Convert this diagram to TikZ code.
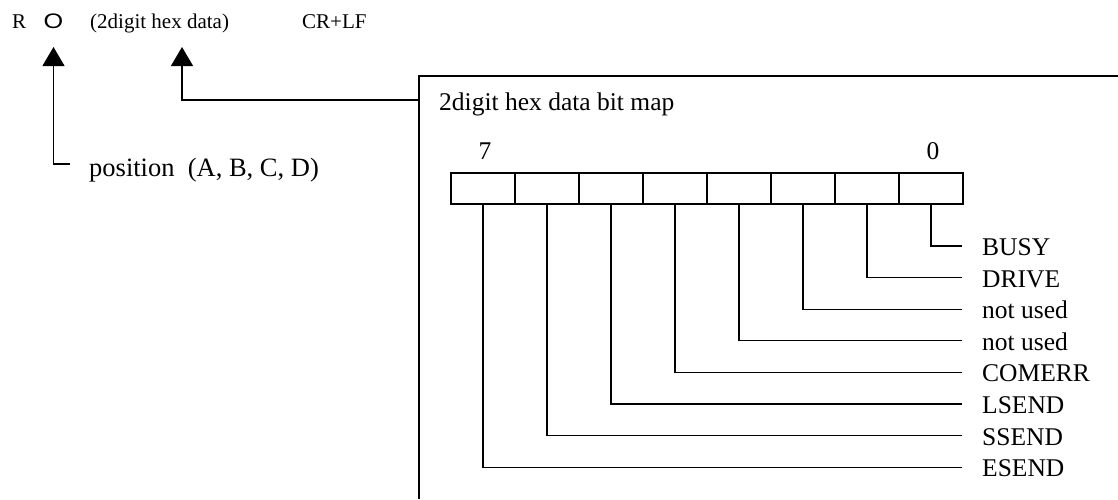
\documentclass[tikz,border=0pt]{standalone}
\usepackage{fontspec}
\setmainfont{Liberation Serif}
\newfontfamily\glyphfont{Liberation Sans}
\usetikzlibrary{arrows.meta}

\tikzset{
  wire/.style={line width=1.2pt, line join=miter},
  pointer/.style={wire, -{Triangle[length=19pt,width=22pt]}},
  cmdtext/.style={inner sep=0pt, anchor=base west, font=\fontsize{21}{24}\selectfont},
  bodytext/.style={inner sep=0pt, anchor=base west, font=\fontsize{25.5}{30}\selectfont},
  bitcell/.style={draw, line width=1.2pt, minimum width=64pt, minimum height=31pt, inner sep=0pt},
}

\begin{document}
\begin{tikzpicture}[x=1pt, y=-1pt]
  \useasboundingbox (0,0) rectangle (1118,499);

  % command line: R <position> (data) CR+LF
  \node[cmdtext] (cmdR) at (12,28) {R};
  \node[inner sep=0pt, anchor=base, font=\glyphfont\fontsize{21}{24}\selectfont] (pos) at (53.5,28) {\scalebox{1.2}[1]{O}};
  \node[cmdtext] (data) at (90,28) {(2digit hex data)};
  \node[cmdtext] (crlf) at (302,28) {CR+LF};

  % pointer to the position character
  \coordinate (posTip) at (53.5,47);
  \coordinate (posEnd) at (70,164);
  \draw[pointer] (posEnd) -| (posTip);
  \node[bodytext, font=\fontsize{26.5}{30}\selectfont] (posLabel) at (89,176) {position\ \ (A, B, C, D)};

  % frame of the bit map
  \coordinate (frameTR) at (1118,76);
  \coordinate (frameTL) at (419,76);
  \coordinate (frameBL) at (419,499);
  \draw[wire] (frameTR) -- (frameTL) -- (frameBL);

  % pointer to the data field
  \coordinate (dataTip) at (182,47);
  \coordinate (dataEnd) at (419,100);
  \draw[pointer] (dataEnd) -| (dataTip);

  \node[bodytext] (title) at (439,110.5) {2digit hex data bit map};
  \node[bodytext, anchor=base] (msb) at (485,159) {7};
  \node[bodytext, anchor=base] (lsb) at (933,159) {0};

  % register cells and their bit names
  \foreach \b/\name in {0/BUSY, 1/DRIVE, 2/not used, 3/not used, 4/COMERR, 5/LSEND, 6/SSEND, 7/ESEND} {
    \pgfmathsetmacro{\cx}{483+64*(7-\b)}
    \pgfmathsetmacro{\ly}{246+31.6*\b}
    \node[bitcell] (cell\b) at (\cx,188.5) {};
    \coordinate (end\b) at (962,\ly);
    \node[bodytext] (name\b) at (982,\ly+9.5) {\name};
    \draw[wire] (cell\b.south) |- (end\b);
  }
\end{tikzpicture}
\end{document}
